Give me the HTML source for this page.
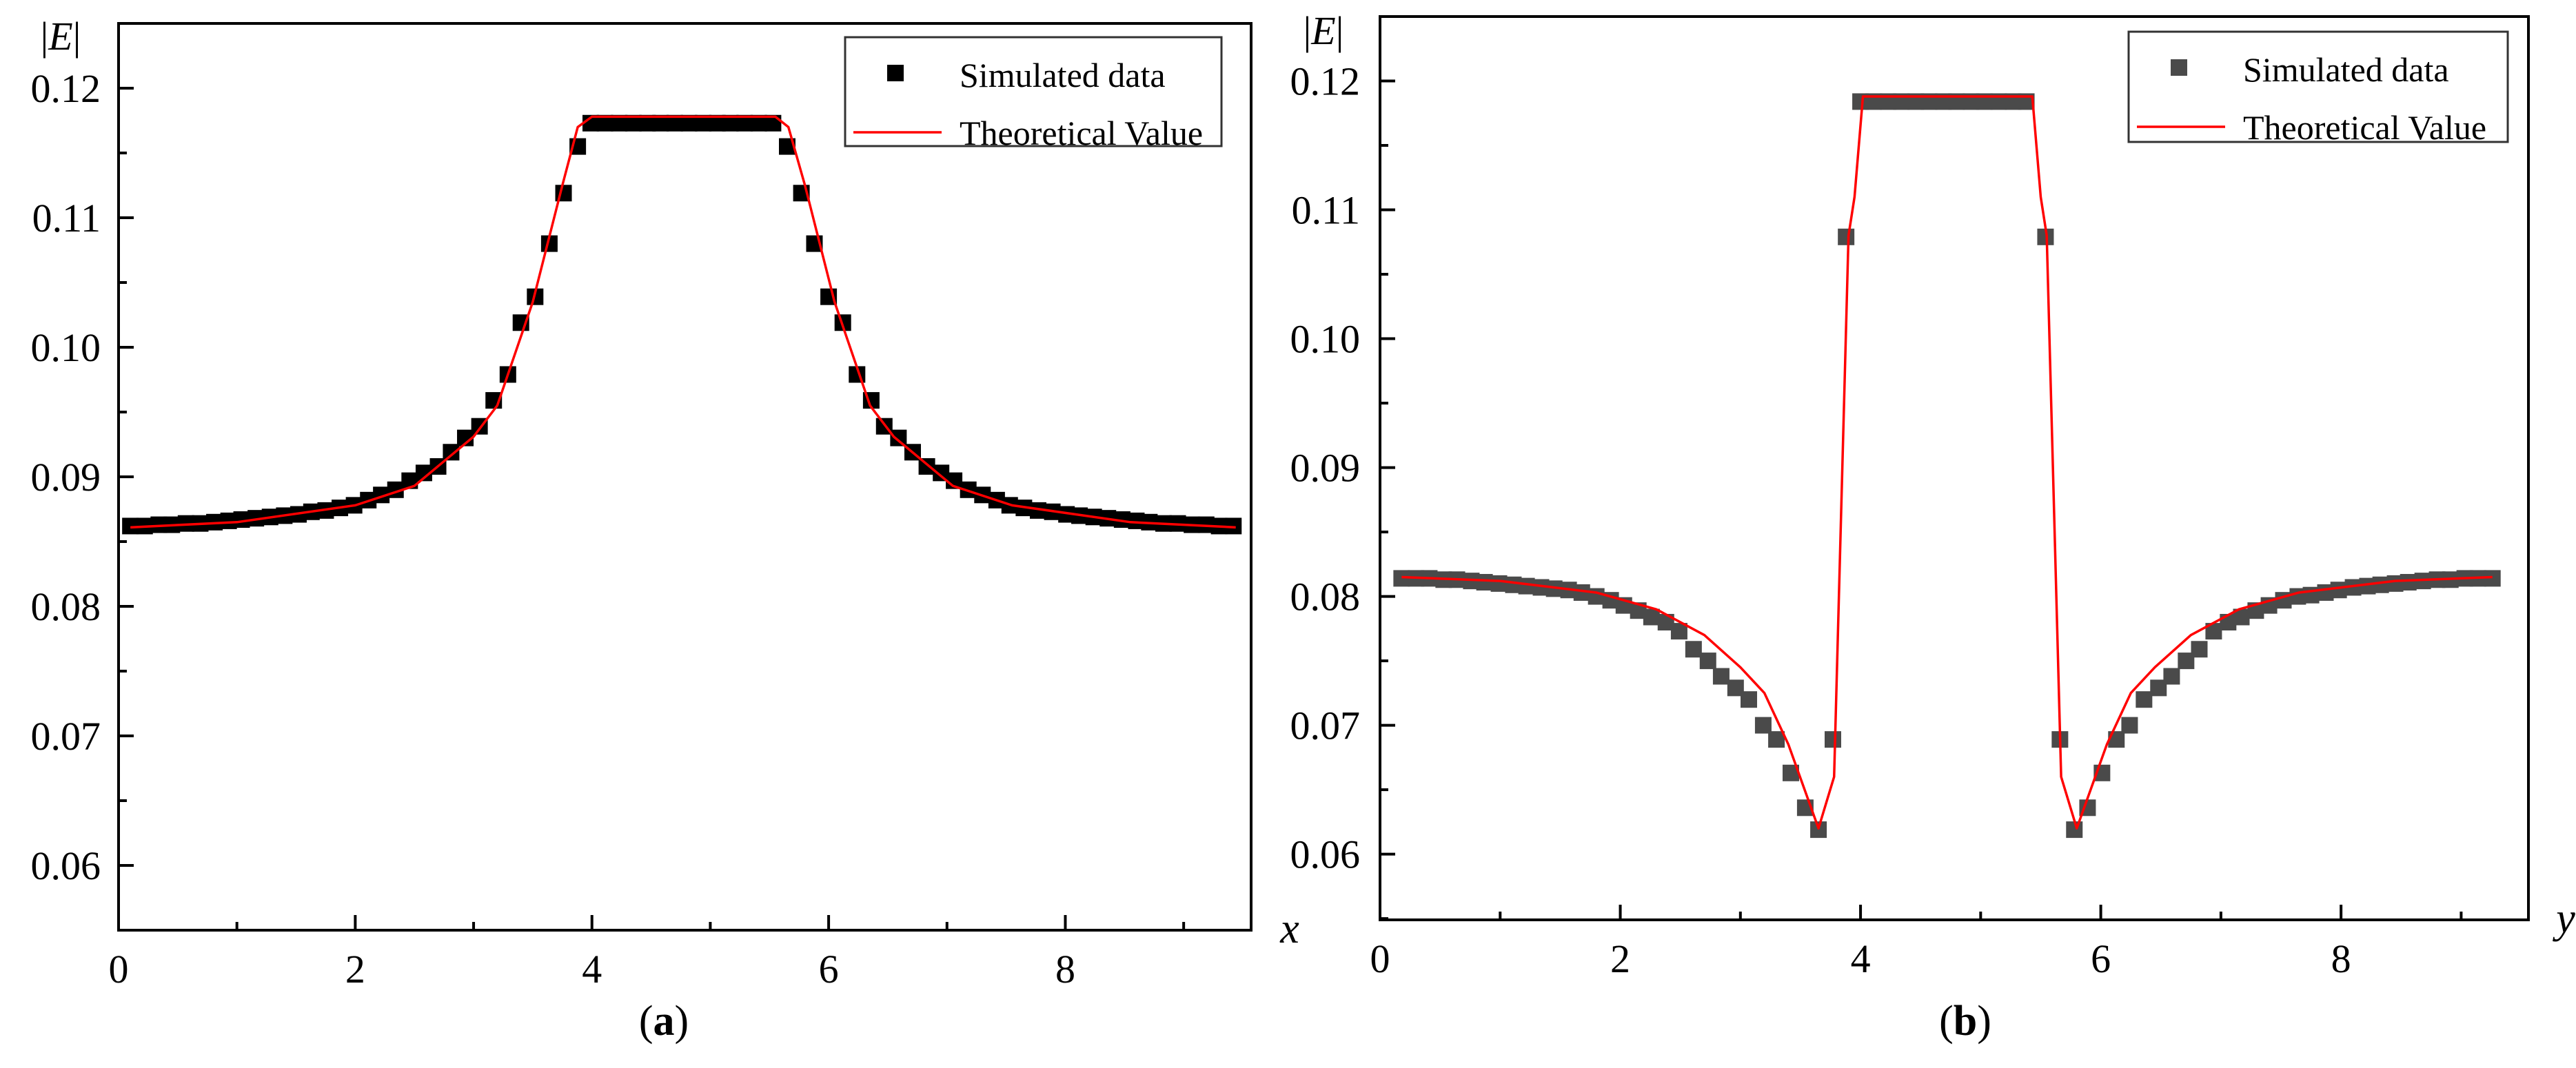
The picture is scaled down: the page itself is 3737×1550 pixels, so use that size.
<!DOCTYPE html>
<html><head><meta charset="utf-8"><style>
html,body{margin:0;padding:0;background:#fff;}
svg{display:block;}
text{font-family:"Liberation Serif",serif;fill:#000;}
</style></head><body>
<svg id="fig" width="3737" height="1550" viewBox="0 0 3737 1550" xmlns="http://www.w3.org/2000/svg"></svg>
<script>
// ---- Panel (a) data ----
const aSimX = [0.10,0.22,0.34,0.45,0.57,0.69,0.81,0.93,1.04,1.16,1.28,1.40,1.52,1.63,1.75,1.87,1.99,2.11,2.22,2.34,2.46,2.58,2.70,2.81,2.93,3.05,3.17,3.29,3.40,3.52,3.64,3.76,3.88,3.99,4.11,4.23,4.35,4.47,4.58,4.70,4.82,4.94,5.06,5.17,5.29,5.41,5.53,5.65,5.77,5.88,6.00,6.12,6.24,6.36,6.47,6.59,6.71,6.83,6.95,7.06,7.18,7.30,7.42,7.53,7.65,7.77,7.89,8.01,8.12,8.24,8.36,8.48,8.60,8.71,8.83,8.95,9.07,9.19,9.30,9.42];
const aSimY = [0.0862,0.0862,0.0863,0.0863,0.0864,0.0864,0.0865,0.0866,0.0867,0.0868,0.0869,0.0870,0.0871,0.0873,0.0874,0.0876,0.0878,0.0882,0.0886,0.0890,0.0897,0.0903,0.0908,0.0919,0.0930,0.0939,0.0959,0.0979,0.1019,0.1039,0.1080,0.1119,0.1155,0.1173,0.1173,0.1173,0.1173,0.1173,0.1173,0.1173,0.1173,0.1173,0.1173,0.1173,0.1173,0.1173,0.1173,0.1155,0.1119,0.1080,0.1039,0.1019,0.0979,0.0959,0.0939,0.0930,0.0919,0.0908,0.0903,0.0897,0.0890,0.0886,0.0882,0.0878,0.0876,0.0874,0.0873,0.0871,0.0870,0.0869,0.0868,0.0867,0.0866,0.0865,0.0864,0.0864,0.0863,0.0863,0.0862,0.0862];
const aTheoX = [0.1,1.0,2.0,2.5,3.0,3.2,3.5,3.75,3.88,4.0,5.55,5.66,5.8,6.05,6.35,6.55,7.05,7.55,8.55,9.44];
const aTheoY = [0.0861,0.0865,0.0878,0.0893,0.0931,0.0955,0.1035,0.1125,0.1170,0.1178,0.1178,0.1170,0.1125,0.1035,0.0955,0.0931,0.0893,0.0878,0.0865,0.0861];
// ---- Panel (b) data ----
const bSimX = [0.18,0.30,0.41,0.53,0.64,0.76,0.87,0.99,1.11,1.22,1.34,1.45,1.57,1.68,1.80,1.92,2.03,2.15,2.26,2.38,2.49,2.61,2.73,2.84,2.96,3.07,3.19,3.30,3.42,3.54,3.65,3.77,3.88,4.00,4.11,4.23,4.34,4.46,4.57,4.69,4.80,4.92,5.03,5.15,5.27,5.38,5.54,5.66,5.78,5.89,6.01,6.13,6.24,6.36,6.48,6.59,6.71,6.82,6.94,7.06,7.17,7.29,7.40,7.52,7.64,7.75,7.87,7.98,8.10,8.22,8.33,8.45,8.56,8.68,8.80,8.91,9.03,9.14,9.26];
const bSimY = [0.0814,0.0814,0.0814,0.0813,0.0813,0.0812,0.0811,0.0810,0.0809,0.0808,0.0807,0.0806,0.0805,0.0803,0.0800,0.0797,0.0793,0.0789,0.0784,0.0780,0.0773,0.0759,0.0750,0.0738,0.0729,0.0720,0.0700,0.0689,0.0663,0.0636,0.0619,0.0689,0.1079,0.1184,0.1184,0.1184,0.1184,0.1184,0.1184,0.1184,0.1184,0.1184,0.1184,0.1184,0.1184,0.1184,0.1079,0.0689,0.0619,0.0636,0.0663,0.0689,0.0700,0.0720,0.0729,0.0738,0.0750,0.0759,0.0773,0.0780,0.0784,0.0789,0.0793,0.0797,0.0800,0.0801,0.0803,0.0805,0.0807,0.0808,0.0809,0.0810,0.0811,0.0812,0.0813,0.0813,0.0814,0.0814,0.0814];
const bTheoX = [0.18,1.0,1.8,2.3,2.7,3.0,3.2,3.4,3.65,3.78,3.82,3.9,3.95,4.02,5.43,5.5,5.55,5.63,5.67,5.8,6.05,6.25,6.45,6.75,7.15,7.65,8.45,9.26];
const bTheoY = [0.0815,0.0812,0.0803,0.0790,0.0770,0.0745,0.0725,0.0685,0.0620,0.0660,0.0800,0.1080,0.1110,0.1188,0.1188,0.1110,0.1080,0.0800,0.0660,0.0620,0.0685,0.0725,0.0745,0.0770,0.0790,0.0803,0.0812,0.0815];
const xTickVals = [0,2,4,6,8];
const xTickLabels = ["0","2","4","6","8"];
const yTickVals = [0.06,0.07,0.08,0.09,0.10,0.11,0.12];
const yTickLabels = ["0.06","0.07","0.08","0.09","0.10","0.11","0.12"];

const NS = "http://www.w3.org/2000/svg";
const svg = document.getElementById('fig');
function mk(tag, attrs, parent){ const e=document.createElementNS(NS,tag); for(const k in attrs) e.setAttribute(k,attrs[k]); (parent||svg).appendChild(e); return e; }

function panel(cfg){
  const g = mk('g',{});
  
  
  const L=cfg.L,R=cfg.R,T=cfg.T,B=cfg.B;
  const sx = v => L + (v - 0)/(cfg.xmax) * (R-L);
  const sy = v => B - (v - cfg.ymin)/(cfg.ymax-cfg.ymin) * (B-T);
  const fr = mk('rect',{x:L,y:T,width:R-L,height:B-T,fill:'none',stroke:'#000','stroke-width':4},g);
  
  
  for(let v=0; v<=cfg.xmax; v+=1){
    const major = v%2===0;
    const t = mk('line',{x1:sx(v),x2:sx(v),y1:B,y2:B-(major?22:12),stroke:'#000','stroke-width':4},g);
    
    
  }
  xTickVals.forEach((v,i)=>{
    const t = mk('text',{x:sx(v),y:B+76,'font-size':58,'text-anchor':'middle'},g);
    t.textContent = xTickLabels[i];
    
    
  });
  for(let k=0;k<=13;k++){
    const v = 0.055 + k*0.005;
    if(v>cfg.ymax) break;
    const major = (k%2===1);
    const t = mk('line',{x1:L,x2:L+(major?22:12),y1:sy(v),y2:sy(v),stroke:'#000','stroke-width':4},g);
    
    
  }
  yTickVals.forEach((v,i)=>{
    const t = mk('text',{x:cfg.ylabR,y:sy(v)+20,'font-size':58,'text-anchor':'end'},g);
    t.textContent = yTickLabels[i];
    
    
  });
  const yt = mk('text',{x:cfg.ytX,y:cfg.ytY,'font-size':58,'text-anchor':'middle'},g);
  yt.innerHTML = '|<tspan font-style="italic">E</tspan>|';
  
  
  const xt = mk('text',{x:cfg.xtX,y:B+18,'font-size':62,'font-style':'italic','text-anchor':'middle'},g);
  xt.textContent = cfg.xTitle;
  
  
  const ms = 24;
  cfg.sx.forEach((v,i)=>{
    const r = mk('rect',{x:sx(v)-ms/2,y:sy(cfg.sy[i])-ms/2,width:ms,height:ms,fill:cfg.mcol},g);
    
    
  });
  const pts = cfg.tx.map((v,i)=>sx(v)+','+sy(cfg.ty[i])).join(' ');
  const pl = mk('polyline',{points:pts,fill:'none',stroke:'#ff0000','stroke-width':3.5,'stroke-linejoin':'round'},g);
  
  
  const lg = mk('g',{},g);
  
  
  const lb = cfg.leg;
  mk('rect',{x:lb[0],y:lb[1],width:lb[2]-lb[0],height:lb[3]-lb[1],fill:'#fff',stroke:'#333','stroke-width':3},lg);
  const e1 = mk('rect',{x:lb[0]+61,y:lb[1]+40,width:24,height:24,fill:cfg.mcol},lg);
  
  
  const t1 = mk('text',{x:lb[0]+166,y:lb[1]+72,'font-size':50},lg);
  t1.textContent='Simulated data';
  
  
  const e2 = mk('line',{x1:lb[0]+12,x2:lb[0]+140,y1:lb[1]+138,y2:lb[1]+138,stroke:'#ff0000','stroke-width':3.5},lg);
  
  
  const t2 = mk('text',{x:lb[0]+166,y:lb[1]+156,'font-size':50},lg);
  t2.textContent='Theoretical Value';
  
  
  const cap = mk('text',{x:cfg.capX,y:1502,'font-size':62,'text-anchor':'middle'},g);
  cap.innerHTML = '(<tspan font-weight="bold">'+cfg.cap+'</tspan>)';
  
  
}

panel({name:'panel-a',L:172,R:1815,T:34,B:1350,xmax:9.57,ymin:0.055,ymax:0.125,ylabR:146,
  ytX:88,ytY:72,xtX:1871,xTitle:'x',sx:aSimX,sy:aSimY,tx:aTheoX,ty:aTheoY,mcol:'#000',
  leg:[1226,54,1772,212],capX:963,cap:'a'});
panel({name:'panel-b',L:2002,R:3668,T:24,B:1335,xmax:9.56,ymin:0.0549,ymax:0.125,ylabR:1973,
  ytX:1920,ytY:64,xtX:3722,xTitle:'y',sx:bSimX,sy:bSimY,tx:bTheoX,ty:bTheoY,mcol:'#4a4a4a',
  leg:[3088,46,3638,206],capX:2851,cap:'b'});
</script>
</body></html>
